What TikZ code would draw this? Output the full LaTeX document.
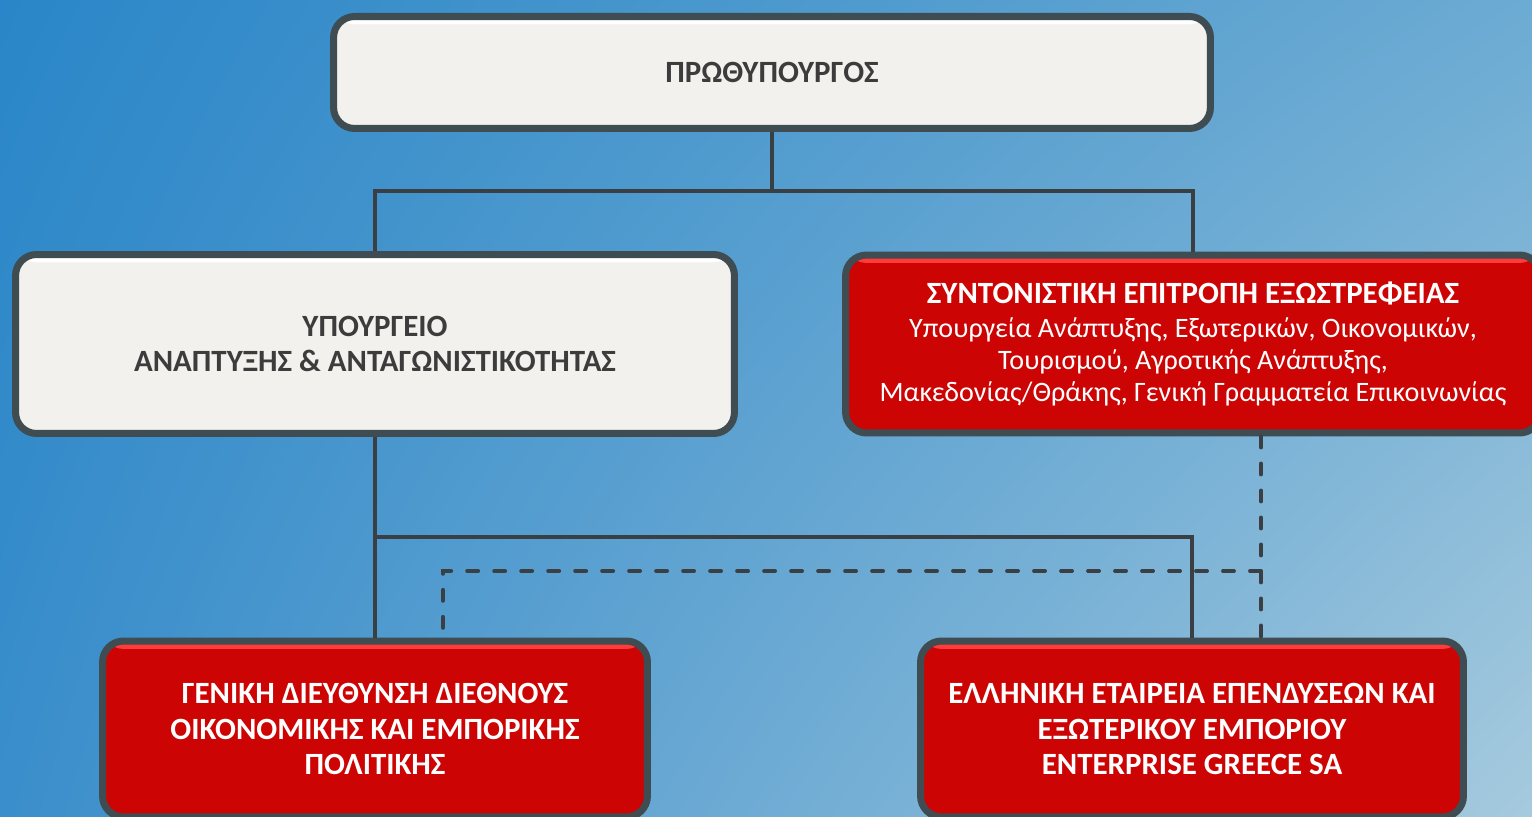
\documentclass[tikz,border=0pt]{standalone}
\usepackage{fontspec}
\setmainfont{Carlito}
\usepackage{tikz}
\usetikzlibrary{calc,shadings}

\definecolor{bgtl}{HTML}{2A86C8}
\definecolor{bgtr}{HTML}{6CABD3}
\definecolor{bgbl}{HTML}{3A8ECB}
\definecolor{bgbr}{HTML}{A6CADE}
\definecolor{boxedge}{HTML}{3F4C52}
\definecolor{boxwhite}{HTML}{F2F1ED}
\definecolor{boxred}{HTML}{CC0404}
\definecolor{redhl}{HTML}{FF3B3B}
\definecolor{boxtext}{HTML}{3C3C3C}
\definecolor{linkgray}{HTML}{3A3F44}

\newcommand{\bodyfont}{\mdseries\fontsize{16}{18.2}\selectfont}

\tikzset{
    box/.style={draw=boxedge, line width=4pt, rounded corners=0.42cm, align=center,
        inner sep=0pt, font=\bfseries\fontsize{17.6}{20}\selectfont},
    whitebox/.style={box, fill=boxwhite, text=boxtext,
        path picture={\fill[white] (path picture bounding box.north west) rectangle
            ([yshift=-4.5pt]path picture bounding box.north east);}},
    redbox/.style={box, fill=boxred, text=white,
        path picture={\fill[redhl] (path picture bounding box.north west) rectangle
            ([yshift=-4.5pt]path picture bounding box.north east);}},
    link/.style={draw=linkgray, line width=1.8pt},
    dashlink/.style={link, line width=2.2pt, line cap=round, dash pattern=on 0.22cm off 0.32cm}
}

\begin{document}
\begin{tikzpicture}[x=0.02cm, y=-0.02cm]
    % Hintergrund.
    \shade[upper left=bgtl, upper right=bgtr, lower left=bgbl, lower right=bgbr]
        (0,0) rectangle (1532,817);
    \useasboundingbox (0,0) rectangle (1532,817);

    % Kaesten.
    \node[whitebox, minimum width=17.54cm, minimum height=2.24cm] (pm) at (772,72.5)
        {ΠΡΩΘΥΠΟΥΡΓΟΣ};
    \node[whitebox, minimum width=14.38cm, minimum height=3.58cm] (ym) at (375,344)
        {ΥΠΟΥΡΓΕΙΟ\\ΑΝΑΠΤΥΞΗΣ \& ΑΝΤΑΓΩΝΙΣΤΙΚΟΤΗΤΑΣ};
    \node[redbox, minimum width=13.9cm, minimum height=3.56cm] (se) at (1193,344)
        {ΣΥΝΤΟΝΙΣΤΙΚΗ ΕΠΙΤΡΟΠΗ ΕΞΩΣΤΡΕΦΕΙΑΣ\\[-0.7pt]
        \bodyfont Υπουργεία Ανάπτυξης, Εξωτερικών, Οικονομικών,\\[-1.8pt]
        \bodyfont Τουρισμού, Αγροτικής Ανάπτυξης,\\[-1.8pt]
        \bodyfont Μακεδονίας/Θράκης, Γενική Γραμματεία Επικοινωνίας};
    \node[redbox, minimum width=10.9cm, minimum height=3.52cm] (gd) at (375,729)
        {ΓΕΝΙΚΗ ΔΙΕΥΘΥΝΣΗ ΔΙΕΘΝΟΥΣ\\ΟΙΚΟΝΟΜΙΚΗΣ ΚΑΙ ΕΜΠΟΡΙΚΗΣ\\ΠΟΛΙΤΙΚΗΣ};
    \node[redbox, minimum width=10.86cm, minimum height=3.52cm] (eg) at (1192,729)
        {ΕΛΛΗΝΙΚΗ ΕΤΑΙΡΕΙΑ ΕΠΕΝΔΥΣΕΩΝ ΚΑΙ\\ΕΞΩΤΕΡΙΚΟΥ ΕΜΠΟΡΙΟΥ\\ENTERPRISE GREECE SA};

    % Verbindungen.
    \coordinate (j1) at (772,191);
    \coordinate (j2) at (375,537);
    \coordinate (d1) at (1261,571);
    \coordinate (d2) at (443,571);

    \draw[link] (pm.south) -- (j1) -| (ym.north);
    \draw[link] (j1) -| (se.north);
    \draw[link] (ym.south) -- (gd.north);
    \draw[link] (j2) -| (eg.north);

    \draw[dashlink] (se.south -| d1) -- (d1) -- (eg.north -| d1);
    \draw[dashlink] (d1) -- (d2) -- (gd.north -| d2);
\end{tikzpicture}
\end{document}
